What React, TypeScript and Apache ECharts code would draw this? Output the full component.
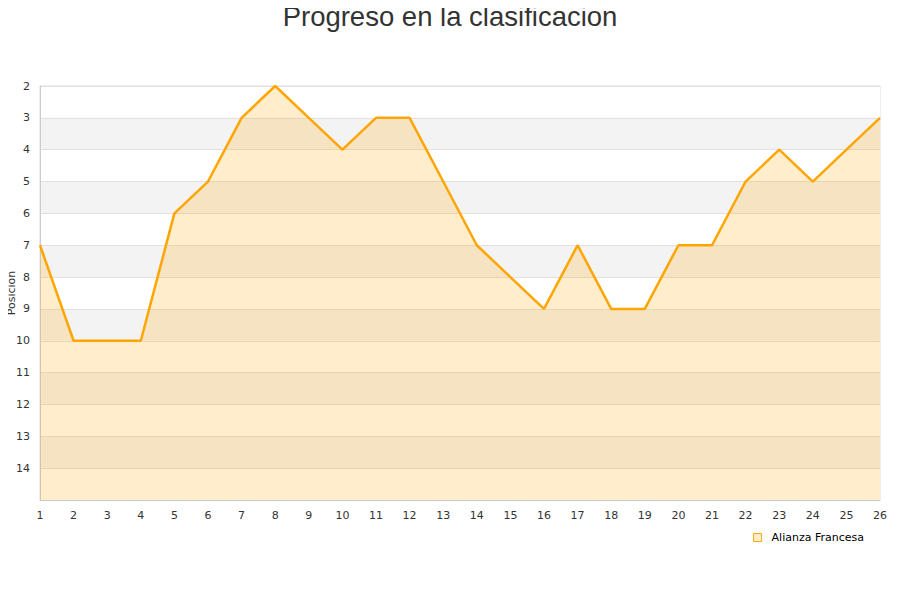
import React, { useEffect, useRef } from "react";
import * as echarts from "echarts";

const jornadas = ["1", "2", "3", "4", "5", "6", "7", "8", "9", "10", "11", "12", "13", "14", "15", "16", "17", "18", "19", "20", "21", "22", "23", "24", "25", "26"];
const posiciones = [7, 10, 10, 10, 6, 5, 3, 2, 3, 4, 3, 3, 5, 7, 8, 9, 7, 9, 9, 7, 7, 5, 4, 5, 4, 3];
const equipo = "Alianza Francesa";

const App = () => {
  const ref = useRef<HTMLDivElement>(null);

  useEffect(() => {
    const chart = echarts.init(ref.current, null, { renderer: "svg" });
    chart.setOption({
      animation: false,
      title: {
        text: "Progreso en la clasificacion",
        left: "center",
        top: 0,
        padding: [2, 5],
        textStyle: { fontFamily: "Liberation Sans", fontSize: 27.5, fontWeight: "normal", color: "#333" }
      },
      // y axis title drawn by hand so the grid keeps its left edge
      graphic: [
        {
          type: "text",
          x: 11,
          y: 293,
          rotation: Math.PI / 2,
          style: {
            text: "Posicion",
            align: "center",
            verticalAlign: "middle",
            fontFamily: "DejaVu Sans",
            fontSize: 11,
            fill: "#333"
          }
        }
      ],
      grid: {
        left: 40,
        right: 20,
        top: 86,
        bottom: 100,
        show: true,
        borderColor: "#ddd",
        borderWidth: 1
      },
      legend: {
        bottom: 52,
        right: 31,
        itemWidth: 8,
        itemHeight: 8,
        icon: "rect",
        textStyle: { fontFamily: "DejaVu Sans", fontSize: 11, color: "#000", padding: [0, 0, 0, 5] },
        data: [
          {
            name: equipo,
            itemStyle: { color: "#FFEDCC", borderColor: "#FFA500", borderWidth: 1 }
          }
        ]
      },
      xAxis: {
        type: "category",
        data: jornadas,
        boundaryGap: false,
        axisLine: { lineStyle: { color: "#ccc" } },
        axisTick: { show: false },
        axisLabel: { fontFamily: "DejaVu Sans", fontSize: 11, color: "#333", margin: 10 }
      },
      yAxis: {
        type: "value",
        inverse: true,
        min: 2,
        max: 15,
        interval: 1,
        axisLine: { show: true, lineStyle: { color: "#ccc" } },
        axisTick: { show: false },
        axisLabel: {
          fontFamily: "DejaVu Sans",
          fontSize: 11,
          color: "#333",
          margin: 10,
          formatter: (v: number) => (v === 15 ? "" : String(v))
        },
        splitLine: { lineStyle: { color: "#e0e0e0" } },
        splitArea: { show: true, areaStyle: { color: ["#ffffff", "#f3f3f3"] } }
      },
      series: [
        {
          name: equipo,
          type: "line",
          data: posiciones,
          showSymbol: false,
          lineStyle: { color: "#FFA500", width: 2.5 },
          itemStyle: { color: "#FFA500" },
          areaStyle: { color: "#FFA500", opacity: 0.2, origin: "end" }
        }
      ]
    });
    return () => chart.dispose();
  }, []);

  return <div ref={ref} style={{ width: 900, height: 600, margin: -8 }} />;
};

export default App;
